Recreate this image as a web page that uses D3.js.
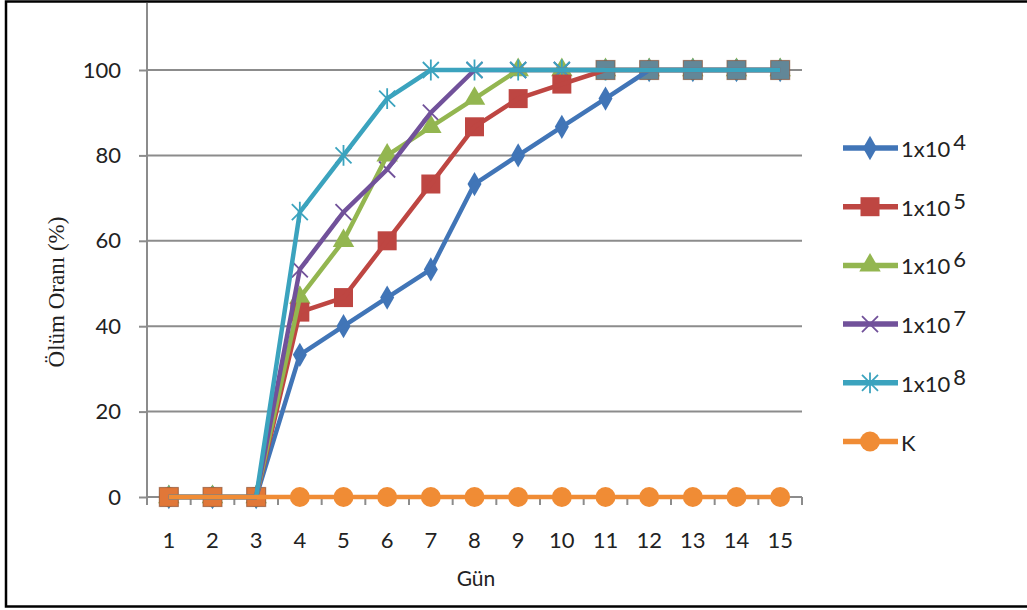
<!DOCTYPE html>
<html>
<head>
<meta charset="utf-8">
<script src="https://cdn.jsdelivr.net/npm/d3@7"></script>
<style>
  html, body { margin: 0; padding: 0; background: #fff; }
  svg { display: block; }
</style>
</head>
<body>
<svg id="chart" width="1027" height="610"></svg>
<script>
// Days on the x axis
const days = [1, 2, 3, 4, 5, 6, 7, 8, 9, 10, 11, 12, 13, 14, 15];
// Mortality (%) per dose group, one value per day
const s1e4 = [0, 0, 0, 33.3, 40, 46.7, 53.3, 73.3, 80, 86.7, 93.3, 100, 100, 100, 100];
const s1e5 = [0, 0, 0, 43.3, 46.7, 60, 73.3, 86.7, 93.3, 96.7, 100, 100, 100, 100, 100];
const s1e6 = [0, 0, 0, 46.7, 60, 80, 86.7, 93.3, 100, 100, 100, 100, 100, 100, 100];
const s1e7 = [0, 0, 0, 53.3, 66.7, 76.7, 90, 100, 100, 100, 100, 100, 100, 100, 100];
const s1e8 = [0, 0, 0, 66.7, 80, 93.3, 100, 100, 100, 100, 100, 100, 100, 100, 100];
const sK   = [0, 0, 0, 0, 0, 0, 0, 0, 0, 0, 0, 0, 0, 0, 0];
const yTicks = [0, 20, 40, 60, 80, 100];
const seriesExp = ["4", "5", "6", "7", "8", null];

const series = [
  { base: "1x10", exp: seriesExp[0], values: s1e4, color: "#4175B7", marker: "diamond" },
  { base: "1x10", exp: seriesExp[1], values: s1e5, color: "#BE4642", marker: "square" },
  { base: "1x10", exp: seriesExp[2], values: s1e6, color: "#93B650", marker: "triangle" },
  { base: "1x10", exp: seriesExp[3], values: s1e7, color: "#71519A", marker: "cross" },
  { base: "1x10", exp: seriesExp[4], values: s1e8, color: "#3BA3BE", marker: "star" },
  { base: "K",    exp: seriesExp[5], values: sK,   color: "#F08C35", marker: "circle" }
];

const svg = d3.select("#chart");
const font = "Lato, 'Open Sans', sans-serif";

// outer frame
svg.append("rect")
  .attr("x", 6).attr("y", 1.5).attr("width", 1030).attr("height", 605)
  .attr("fill", "none").attr("stroke", "#000").attr("stroke-width", 2.5);

const plot = { left: 147, right: 802, top: 70, bottom: 497 };

const x = d3.scaleBand().domain(days).range([plot.left, plot.right]).paddingInner(0).paddingOuter(0);
const cx = d => x(d) + x.bandwidth() / 2;
const y = d3.scaleLinear().domain([0, 100]).range([plot.bottom, plot.top]);

// horizontal gridlines
svg.append("g").selectAll("line").data(yTicks.filter(t => t > 0)).join("line")
  .attr("x1", plot.left).attr("x2", plot.right)
  .attr("y1", d => y(d)).attr("y2", d => y(d))
  .attr("stroke", "#8c8c8c").attr("stroke-width", 2);

// y axis
const yAxis = svg.append("g").attr("transform", `translate(${plot.left},0)`)
  .call(d3.axisLeft(y).tickValues(yTicks).tickSize(8).tickPadding(18));
yAxis.select(".domain").remove();
yAxis.append("line").attr("x1", 0).attr("x2", 0).attr("y1", plot.bottom).attr("y2", 3)
  .attr("stroke", "#8c8c8c").attr("stroke-width", 2);
yAxis.selectAll(".tick line").attr("stroke", "#8c8c8c").attr("stroke-width", 2);
yAxis.selectAll(".tick text").attr("font-family", font).attr("font-size", 22).attr("fill", "#222");

// x axis: ticks sit on the category boundaries
const xAxis = svg.append("g").attr("transform", `translate(0,${plot.bottom})`);
xAxis.append("line").attr("x1", plot.left).attr("x2", plot.right).attr("y1", 0).attr("y2", 0)
  .attr("stroke", "#8c8c8c").attr("stroke-width", 2);
const bounds = days.map(d => x(d)).concat([x(days[days.length - 1]) + x.bandwidth()]);
xAxis.selectAll("line.tk").data(bounds).join("line").attr("class", "tk")
  .attr("x1", d => d).attr("x2", d => d).attr("y1", 0).attr("y2", 8)
  .attr("stroke", "#8c8c8c").attr("stroke-width", 2);
xAxis.selectAll("text").data(days).join("text")
  .attr("x", d => cx(d)).attr("y", 51)
  .attr("text-anchor", "middle")
  .attr("font-family", font).attr("font-size", 22).attr("fill", "#222")
  .text(d => d);

// axis titles
svg.append("text").attr("x", 476).attr("y", 586).attr("text-anchor", "middle")
  .attr("font-family", font).attr("font-size", 21).attr("fill", "#222").text("Gün");
svg.append("text")
  .attr("transform", "translate(64,292) rotate(-90)")
  .attr("text-anchor", "middle")
  .attr("font-family", "'Liberation Serif', 'DejaVu Serif', serif").attr("font-size", 23).attr("fill", "#222")
  .text("Ölüm Oranı (%)");

// marker shapes
function drawMarker(g, type, color, px, py, scale) {
  const k = scale || 1;
  if (type === "diamond") {
    g.append("path").attr("d", d3.symbol(d3.symbolDiamond, 170 * k * k)())
      .attr("transform", `translate(${px},${py})`).attr("fill", color);
  } else if (type === "square") {
    const s = 19 * k;
    g.append("rect").attr("x", px - s / 2).attr("y", py - s / 2).attr("width", s).attr("height", s)
      .attr("fill", color);
  } else if (type === "triangle") {
    g.append("path").attr("d", d3.symbol(d3.symbolTriangle, 200 * k * k)())
      .attr("transform", `translate(${px},${py})`).attr("fill", color);
  } else if (type === "cross") {
    const r = 8 * k;
    g.append("path").attr("d", `M${px - r},${py - r}L${px + r},${py + r}M${px - r},${py + r}L${px + r},${py - r}`)
      .attr("stroke", color).attr("stroke-width", 1.8).attr("fill", "none");
  } else if (type === "star") {
    const r = 8 * k;
    g.append("path").attr("d",
      `M${px - r},${py - r}L${px + r},${py + r}M${px - r},${py + r}L${px + r},${py - r}M${px},${py - r * 1.3}L${px},${py + r * 1.3}`)
      .attr("stroke", color).attr("stroke-width", 1.8).attr("fill", "none");
  } else if (type === "circle") {
    g.append("circle").attr("cx", px).attr("cy", py).attr("r", 10 * k).attr("fill", color);
  }
}

const line = d3.line().x((v, i) => cx(days[i])).y(v => y(v));

// markers first (squares drawn last among them), then lines on top
const markerOrder = [0, 2, 3, 4, 5, 1];
const mg = svg.append("g");
markerOrder.forEach(si => {
  const s = series[si];
  s.values.forEach((v, i) => drawMarker(mg, s.marker, s.color, cx(days[i]), y(v)));
});

// squares that share a point with a later series take on that series' tint
const sq = series[1];
sq.values.forEach((v, i) => {
  let top = null;
  series.forEach((s, si) => { if (si > 1 && s.values[i] === v) top = s; });
  const px = cx(days[i]), py = y(v);
  if (top) {
    mg.append("rect").attr("x", px - 9.5).attr("y", py - 9.5).attr("width", 19).attr("height", 19)
      .attr("fill", top.color).attr("fill-opacity", 0.7)
      .attr("stroke", "#8a5a3c").attr("stroke-opacity", 0.6).attr("stroke-width", 1.2);
  }
});

const lg = svg.append("g");
series.forEach(s => {
  lg.append("path").datum(s.values).attr("d", line)
    .attr("fill", "none").attr("stroke", s.color).attr("stroke-width", 4.5)
    .attr("stroke-linejoin", "round");
});

// legend
const legend = svg.append("g");
series.forEach((s, i) => {
  const ly = 148 + i * 58.7;
  legend.append("line").attr("x1", 843).attr("x2", 898).attr("y1", ly).attr("y2", ly)
    .attr("stroke", s.color).attr("stroke-width", 5.5);
  drawMarker(legend, s.marker, s.color, 870, ly, 1);
  const t = legend.append("text").attr("x", 901).attr("y", ly + 9)
    .attr("font-family", font).attr("font-size", 22).attr("fill", "#222");
  t.append("tspan").text(s.base);
  if (s.exp) t.append("tspan").attr("dx", 3).attr("dy", -7).text(s.exp);
});
</script>
</body>
</html>
